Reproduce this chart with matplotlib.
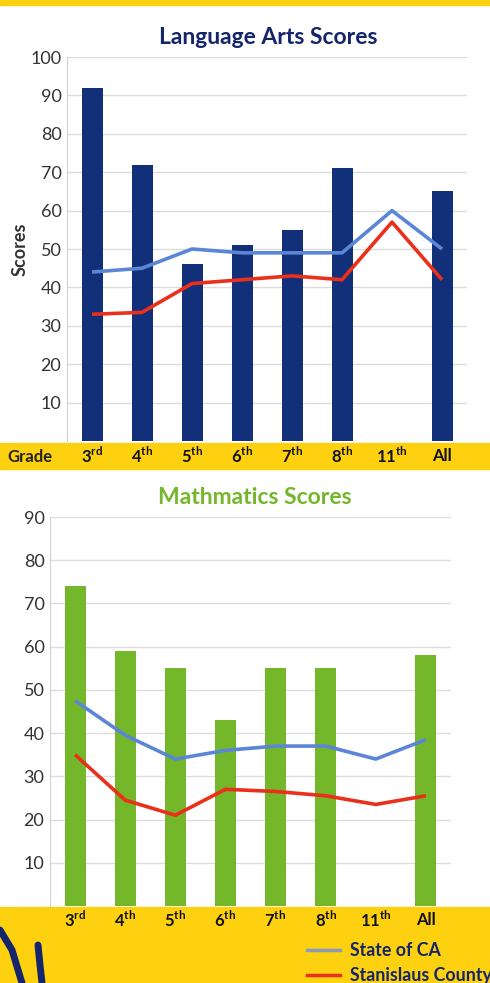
import numpy as np
import matplotlib.pyplot as plt
from matplotlib.patches import Rectangle
from matplotlib.lines import Line2D

plt.rcParams['font.family'] = ['Lato', 'DejaVu Sans']
plt.rcParams['mathtext.fontset'] = 'custom'
plt.rcParams['mathtext.rm'] = 'Lato'
plt.rcParams['mathtext.bf'] = 'Lato:bold'

# datos
grades = ['3', '4', '5', '6', '7', '8', '11', 'All']
sufijos = ['rd', 'th', 'th', 'th', 'th', 'th', 'th', '']

lang_county_bars = [92, 72, 46, 51, 55, 71, np.nan, 65]
lang_state = [44, 45, 50, 49, 49, 49, 60, 50]
lang_stan = [33, 33.5, 41, 42, 43, 42, 57, 42]

math_county_bars = [74, 59, 55, 43, 55, 55, np.nan, 58]
math_state = [47.5, 39.5, 34, 36, 37, 37, 34, 38.5]
math_stan = [35, 24.5, 21, 27, 26.5, 25.5, 23.5, 25.5]

azul_barra = '#12307a'
verde = '#74b72a'
azul_linea = '#5b85d5'
rojo = '#ea2f1a'
amarillo = '#fdd10f'
navy_txt = '#14256b'

fig = plt.figure(figsize=(4.9, 9.83), dpi=100)
W, H = 490.0, 983.0

def fx(px):
    return px / W

def fy(py):
    return 1 - py / H

# bandas amarillas
fig.patches.append(Rectangle((0, fy(5)), 1, 5 / H, transform=fig.transFigure, color=amarillo, zorder=-5))
fig.patches.append(Rectangle((0, fy(469)), 1, 26 / H, transform=fig.transFigure, color=amarillo, zorder=-5))
fig.patches.append(Rectangle((0, 0), 1, 76 / H, transform=fig.transFigure, color=amarillo, zorder=-5))

labels = [g + ('$^{\\mathbf{' + s + '}}$' if s else '') for g, s in zip(grades, sufijos)]
x = np.arange(len(grades))

def panel(rect, bars, state, stan, color, ymax, label_y):
    ax = fig.add_axes(rect)
    ax.set_facecolor('none')
    ax.bar(x, bars, width=0.42, color=color, zorder=2)
    ax.plot(x, state, color=azul_linea, lw=2.6, zorder=3, solid_capstyle='butt')
    ax.plot(x, stan, color=rojo, lw=2.6, zorder=3, solid_capstyle='butt')
    ax.set_xlim(-0.5, 7.5)
    ax.set_ylim(0, ymax)
    ax.set_yticks(np.arange(10, ymax + 1, 10))
    ax.yaxis.grid(True, color='#dcdcdc', lw=1)
    ax.set_axisbelow(True)
    for s in ['top', 'right', 'bottom']:
        ax.spines[s].set_visible(False)
    ax.spines['left'].set_color('#d0d0d0')
    ax.tick_params(axis='y', length=0, labelsize=13, labelcolor='#333333', pad=4)
    ax.set_xticks([])
    for i, lab in enumerate(labels):
        ax.text(i, label_y, lab, transform=ax.get_xaxis_transform(), ha='center', va='center',
                fontsize=12, fontweight='bold', color='#111111', clip_on=False, zorder=5)
    return ax

# Language Arts
ax1 = panel([fx(67), fy(441), 400 / W, 384 / H], lang_county_bars, lang_state, lang_stan,
            azul_barra, 100, -0.04)
ax1.set_ylabel('Scores', fontsize=13, fontweight='bold', color='#333333', labelpad=1)
fig.text(fx(30), fy(457), 'Grade', ha='center', va='center', fontsize=12, fontweight='bold', color='#222222')
fig.text(fx(268), fy(37), 'Language Arts Scores', ha='center', va='center', fontsize=16.5,
         fontweight='bold', color=navy_txt)

# Mathmatics
ax2 = panel([fx(50), fy(906), 401 / W, 389 / H], math_county_bars, math_state, math_stan,
            verde, 90, -0.035)
fig.text(fx(255), fy(497), 'Mathmatics Scores', ha='center', va='center', fontsize=16.5,
         fontweight='bold', color=verde)

# leyenda
fig.lines.append(Line2D([fx(307), fx(340)], [fy(950), fy(950)], transform=fig.transFigure, color='#8a9bb8', lw=2.5))
fig.lines.append(Line2D([fx(307), fx(340)], [fy(975), fy(975)], transform=fig.transFigure, color=rojo, lw=2.5))
fig.text(fx(350), fy(950), 'State of CA', ha='left', va='center', fontsize=12.8, fontweight='bold', color=navy_txt)
fig.text(fx(350), fy(975), 'Stanislaus County', ha='left', va='center', fontsize=12.8, fontweight='bold', color=navy_txt)

# logo (trazos)
fig.lines.append(Line2D([fx(0), fx(12), fx(22)], [fy(930), fy(950), fy(983)], transform=fig.transFigure,
                        color='#14256b', lw=5, solid_capstyle='round'))
fig.lines.append(Line2D([fx(38), fx(40), fx(42)], [fy(945), fy(965), fy(983)], transform=fig.transFigure,
                        color='#14256b', lw=5, solid_capstyle='round'))

fig.savefig('out.png', dpi=100)
